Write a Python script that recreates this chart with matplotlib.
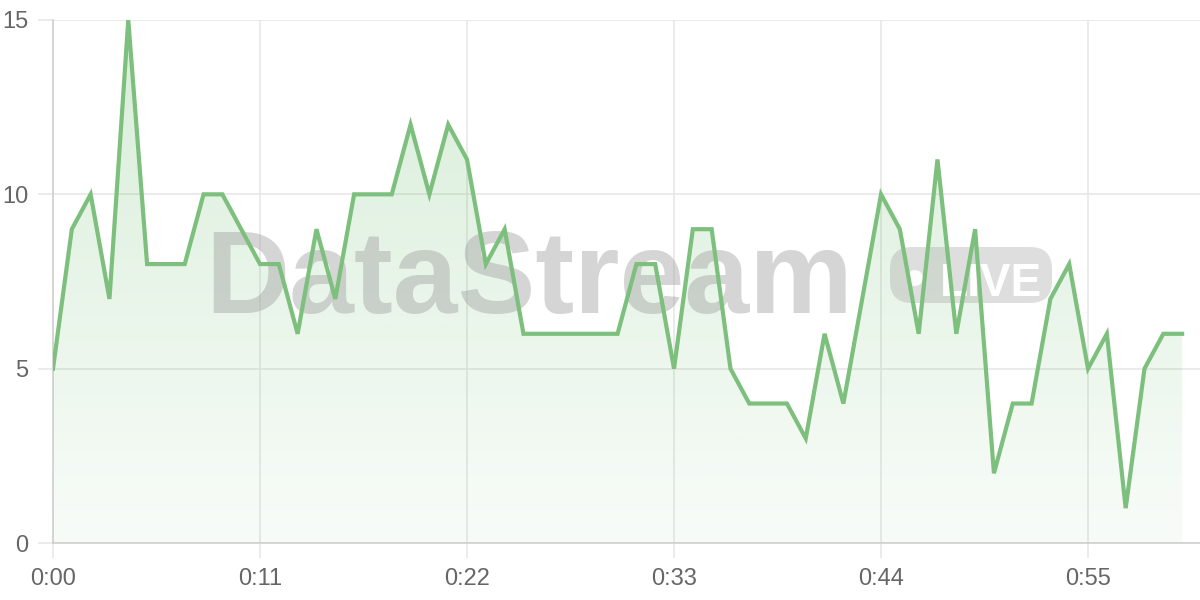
import numpy as np
import matplotlib
matplotlib.use('Agg')
import matplotlib.pyplot as plt
import matplotlib.patches as patches
import matplotlib.transforms as mtransforms
from matplotlib.colors import to_rgb

plt.rcParams['font.family'] = ['Liberation Sans', 'DejaVu Sans']

# one reading per second
seconds = list(range(61))
values = [5, 9, 10, 7, 15, 8, 8, 8, 10, 10,
          9, 8, 8, 6, 9, 7, 10, 10, 10, 12,
          10, 12, 11, 8, 9, 6, 6, 6, 6, 6,
          6, 8, 8, 5, 9, 9, 5, 4, 4, 4,
          3, 6, 4, 7, 10, 9, 6, 11, 6, 9,
          2, 4, 4, 7, 8, 5, 6, 1, 5, 6, 6]
x_ticks = [0, 11, 22, 33, 44, 55]
y_ticks = [0, 5, 10, 15]

line_color = '#7dbf7d'
fill_base = '#4caf50'
grid_color = '#e6e6e6'
axis_color = '#cfcfcf'
label_color = '#666666'

fig = plt.figure(figsize=(12, 6), dpi=100)
ax = fig.add_axes([53 / 1200, 1 - 543 / 600, (1200 - 53) / 1200, (543 - 20) / 600])

x = np.array(seconds)
y = np.array(values)

# gradient fill under the line
poly = ax.fill_between(x, 0, y, facecolor='none', edgecolor='none')
rgb = to_rgb(fill_base)
grad = np.zeros((256, 1, 4))
grad[:, 0, :3] = rgb
grad[:, 0, 3] = np.linspace(0.22, 0.04, 256)
img = ax.imshow(grad, aspect='auto', extent=[x.min(), x.max(), 0, y.max()],
                origin='upper', zorder=1)
img.set_clip_path(poly.get_paths()[0], transform=ax.transData)

ax.plot(x, y, color=line_color, lw=3, zorder=4, solid_joinstyle='miter')

ax.set_xlim(0, 60.95)
ax.set_ylim(0, 15)
ax.set_xticks(x_ticks)
ax.set_xticklabels(['%d:%02d' % (s // 60, s % 60) for s in x_ticks])
ax.set_yticks(y_ticks)

ax.grid(True, color=grid_color, lw=1.1, zorder=0)
ax.set_axisbelow(True)
for side in ['top', 'right']:
    ax.spines[side].set_visible(False)
for side in ['left', 'bottom']:
    ax.spines[side].set_color(axis_color)
    ax.spines[side].set_linewidth(1.2)
ax.tick_params(axis='both', length=11, width=1.1, color=grid_color,
               labelcolor=label_color, labelsize=17)
ax.tick_params(axis='y', pad=7)
ax.tick_params(axis='x', pad=7)

# watermark, semi-transparent, above the fill and below the line
ident = mtransforms.IdentityTransform()
ax.text(205 / 1200, 1 - 313 / 600, 'DataStream', transform=fig.transFigure,
        fontsize=84, fontweight='bold', color='#a3a3a3', alpha=0.45,
        ha='left', va='baseline', zorder=3)
box = patches.FancyBboxPatch((890, 297), 162, 56,
                             boxstyle='round,pad=0,rounding_size=22',
                             transform=ident, facecolor='#a3a3a3', edgecolor='none',
                             alpha=0.35, zorder=3, clip_on=False)
ax.add_artist(box)
dot = patches.Circle((915, 322), 8, transform=ident, facecolor='white',
                     edgecolor='none', alpha=0.95, zorder=3, clip_on=False)
ax.add_artist(dot)
ax.text(940 / 1200, 1 - 296 / 600, 'LIVE', transform=fig.transFigure,
        fontsize=33, fontweight='bold', color='white',
        ha='left', va='baseline', zorder=3)

fig.savefig('out.png', dpi=100)
